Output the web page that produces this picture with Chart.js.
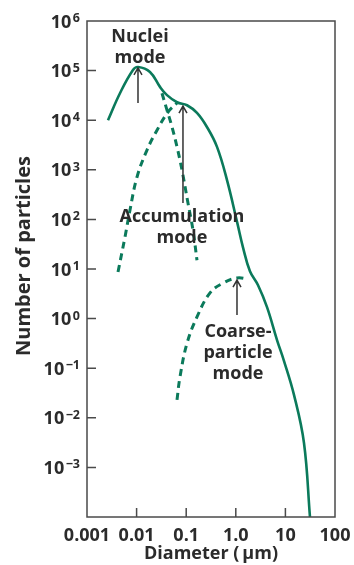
<!DOCTYPE html>
<html>
<head>
<meta charset="utf-8">
<script src="https://cdn.jsdelivr.net/npm/chart.js@4/dist/chart.umd.min.js"></script>
<style>
  html, body { margin: 0; padding: 0; background: #ffffff; }
  #wrap { width: 354px; height: 565px; position: relative; }
</style>
</head>
<body>
<div id="wrap"><canvas id="c" width="354" height="565"></canvas></div>
<script>
// ---- Data ----
// Total particle distribution (solid curve)
const totalDiam  = [0.00265, 0.00462, 0.00845, 0.0107, 0.0186, 0.0296, 0.041, 0.0653, 0.104, 0.165, 0.262, 0.418, 0.665, 1.06, 1.40, 1.93, 2.81, 4.26, 6.78, 9.25, 14.9, 23.7, 31.3];
const totalCount = [1.0e4, 3.5e4, 1.03e5, 1.18e5, 9.4e4, 4.7e4, 3.2e4, 2.3e4, 2.0e4, 1.4e4, 7.3e3, 2.9e3, 620, 89, 27, 9.0, 4.7, 1.7, 0.37, 0.146, 0.029, 0.0031, 1.0e-4];
// Nuclei mode (dashed, descending branch)
const nucleiDiam  = [0.0325, 0.041, 0.0518, 0.0653, 0.0822, 0.1086, 0.137, 0.165];
const nucleiCount = [3.5e4, 1.6e4, 7.3e3, 2.9e3, 990, 214, 61, 15];
// Accumulation mode (dashed, rising branch)
const accumDiam  = [0.00422, 0.00583, 0.00736, 0.0102, 0.0162, 0.0258, 0.043, 0.0653];
const accumCount = [8.7, 44, 155, 716, 2500, 6300, 1.46e4, 2.22e4];
// Coarse-particle mode (dashed, rising branch)
const coarseDiam  = [0.0653, 0.075, 0.104, 0.165, 0.302, 0.552, 1.06, 1.76];
const coarseCount = [0.023, 0.067, 0.32, 1.08, 3.3, 5.2, 6.6, 6.3];

// Axis ticks
const xTickValues = [0.001, 0.01, 0.1, 1, 10, 100];
const xTickLabels = ['0.001', '0.01', '0.1', '1.0', '10', '100'];
const yTickExponents = [-3, -2, -1, 0, 1, 2, 3, 4, 5, 6];

// Annotations: label lines, anchor (diameter, count) of first baseline; arrow from/to (diameter, count)
const annoLabels = [
  ['Nuclei', 'mode'],
  ['Accumulation', 'mode'],
  ['Coarse-', 'particle', 'mode']
];
const annoAnchorDiam  = [0.0117, 0.0822, 1.107];
const annoAnchorCount = [3.78e5, 88.7, 0.426];
const arrowDiam      = [0.01067, 0.0861, 1.057];
const arrowFromCount = [2.22e4, 214, 1.18];
const arrowToCount   = [1.13e5, 1.93e4, 6.0];

// ---- Styles ----
const GREEN = '#0b7a5b';
const INK = '#2b2b2b';
const AXIS = '#4a4a4a';
const FONT = "'Open Sans', 'DejaVu Sans', sans-serif";

const pts = (xs, ys) => xs.map((v, i) => ({ x: v, y: ys[i] }));

const decorPlugin = {
  id: 'decor',
  afterDatasetsDraw(chart) {
    const { ctx, chartArea: a, scales: { x, y } } = chart;
    ctx.save();
    // frame
    ctx.strokeStyle = AXIS;
    ctx.lineWidth = 1.5;
    ctx.strokeRect(a.left, a.top, a.right - a.left, a.bottom - a.top);
    // inward tick marks
    ctx.beginPath();
    y.ticks.forEach(t => {
      const p = y.getPixelForValue(t.value);
      if (p > a.top + 2 && p < a.bottom - 2) { ctx.moveTo(a.left, p); ctx.lineTo(a.left + 9, p); }
    });
    x.ticks.forEach(t => {
      const p = x.getPixelForValue(t.value);
      if (p > a.left + 2 && p < a.right - 2) { ctx.moveTo(p, a.bottom); ctx.lineTo(p, a.bottom - 9); }
    });
    ctx.stroke();

    // y tick labels: 10 with superscript exponent
    ctx.fillStyle = INK;
    ctx.textBaseline = 'alphabetic';
    ctx.textAlign = 'left';
    const rightEdge = a.left - 7;
    yTickExponents.forEach(e => {
      const p = y.getPixelForValue(Math.pow(10, e));
      const expText = String(e).replace('-', '\u2212');
      ctx.font = 'bold 12.5px ' + FONT;
      const ew = ctx.measureText(expText).width;
      ctx.font = 'bold 18px ' + FONT;
      const bw = ctx.measureText('10').width;
      const startX = rightEdge - ew - 1.5 - bw;
      ctx.fillText('10', startX, p + 6.5);
      ctx.font = 'bold 12.5px ' + FONT;
      ctx.fillText(expText, startX + bw + 1.5, p + 1);
    });

    // annotations
    ctx.font = 'bold 18px ' + FONT;
    ctx.textAlign = 'center';
    annoLabels.forEach((lines, i) => {
      const px = x.getPixelForValue(annoAnchorDiam[i]);
      const py = y.getPixelForValue(annoAnchorCount[i]);
      lines.forEach((s, j) => ctx.fillText(s, px, py + j * 21));
    });
    // arrows
    ctx.strokeStyle = '#333333';
    ctx.lineWidth = 1.5;
    arrowDiam.forEach((d, i) => {
      const px = x.getPixelForValue(d);
      const y1 = y.getPixelForValue(arrowFromCount[i]);
      const y2 = y.getPixelForValue(arrowToCount[i]);
      ctx.beginPath();
      ctx.moveTo(px, y1); ctx.lineTo(px, y2);
      ctx.moveTo(px - 4, y2 + 7); ctx.lineTo(px, y2); ctx.lineTo(px + 4, y2 + 7);
      ctx.stroke();
    });
    ctx.restore();
  }
};

const solidStyle = { borderColor: GREEN, borderWidth: 2.6, pointRadius: 0, fill: false, tension: 0.4 };
const dashStyle = { borderColor: GREEN, borderWidth: 3, borderDash: [7, 5], pointRadius: 0, fill: false, tension: 0.4 };

new Chart(document.getElementById('c'), {
  type: 'line',
  data: {
    datasets: [
      Object.assign({ label: 'Total', data: pts(totalDiam, totalCount) }, solidStyle),
      Object.assign({ label: 'Nuclei mode', data: pts(nucleiDiam, nucleiCount) }, dashStyle),
      Object.assign({ label: 'Accumulation mode', data: pts(accumDiam, accumCount) }, dashStyle),
      Object.assign({ label: 'Coarse-particle mode', data: pts(coarseDiam, coarseCount) }, dashStyle)
    ]
  },
  options: {
    responsive: false,
    animation: false,
    devicePixelRatio: 1,
    layout: { padding: { left: 0, right: 19, top: 21, bottom: 0 } },
    plugins: { legend: { display: false }, tooltip: { enabled: false } },
    scales: {
      x: {
        type: 'logarithmic',
        min: 0.001, max: 100,
        grid: { display: false },
        border: { display: false },
        afterBuildTicks: s => { s.ticks = xTickValues.map(v => ({ value: v })); },
        afterFit: s => { s.height = 48; },
        ticks: {
          autoSkip: false, maxRotation: 0, padding: 0,
          color: INK, font: { family: FONT, size: 18, weight: 'bold' },
          callback: (v, i) => xTickLabels[i]
        },
        title: {
          display: true, text: 'Diameter (\u2009\u03bcm)', color: INK,
          font: { family: FONT, size: 18, weight: 'bold' },
          padding: { top: 0, bottom: 0 }
        }
      },
      y: {
        type: 'logarithmic',
        min: 1e-4, max: 1e6,
        grid: { display: false },
        border: { display: false },
        afterBuildTicks: s => { s.ticks = yTickExponents.map(e => ({ value: Math.pow(10, e) })); },
        afterFit: s => { s.width = 87; },
        ticks: { display: false },
        title: {
          display: true, text: '     Number of particles', color: INK,
          font: { family: FONT, size: 20, weight: 'bold' },
          padding: { top: 12, bottom: 0 }
        }
      }
    }
  },
  plugins: [decorPlugin]
});
</script>
</body>
</html>
